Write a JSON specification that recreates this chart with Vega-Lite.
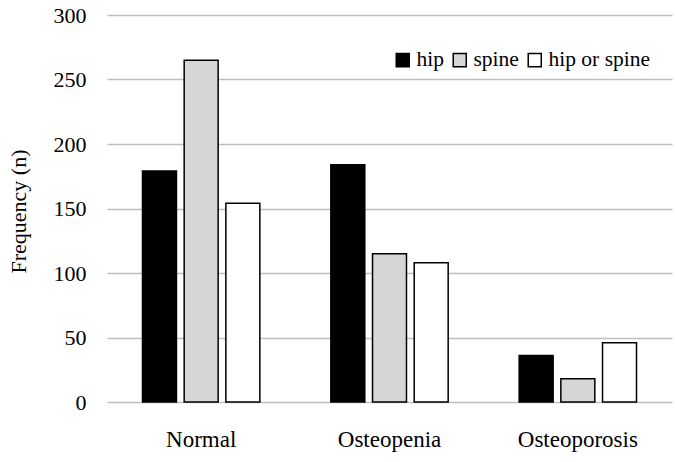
{
  "$schema": "https://vega.github.io/schema/vega-lite/v6.json",
  "width": 565,
  "height": 387,
  "autosize": "none",
  "padding": {"left": 107, "top": 15, "right": 3, "bottom": 60},
  "background": "white",
  "config": {
    "view": {"stroke": null},
    "font": "'Liberation Serif', 'Times New Roman', Times, 'DejaVu Serif', serif"
  },
  "data": {
    "values": [
      {"category": "Normal", "site": "hip", "n": 179},
      {"category": "Normal", "site": "spine", "n": 265},
      {"category": "Normal", "site": "hip or spine", "n": 154},
      {"category": "Osteopenia", "site": "hip", "n": 184},
      {"category": "Osteopenia", "site": "spine", "n": 115},
      {"category": "Osteopenia", "site": "hip or spine", "n": 108},
      {"category": "Osteoporosis", "site": "hip", "n": 36},
      {"category": "Osteoporosis", "site": "spine", "n": 18},
      {"category": "Osteoporosis", "site": "hip or spine", "n": 46}
    ]
  },
  "mark": {"type": "bar", "stroke": "black", "strokeWidth": 1.5},
  "encoding": {
    "x": {
      "field": "category",
      "type": "nominal",
      "sort": ["Normal", "Osteopenia", "Osteoporosis"],
      "scale": {"paddingInner": 0.336, "paddingOuter": 0.168},
      "axis": {
        "title": null,
        "labelAngle": 0,
        "labelFont": "'Liberation Serif', 'Times New Roman', Times, 'DejaVu Serif', serif",
        "labelFontSize": 23,
        "labelColor": "black",
        "labelPadding": 26,
        "ticks": false,
        "domain": false,
        "grid": false
      }
    },
    "xOffset": {
      "field": "site",
      "type": "nominal",
      "sort": ["hip", "spine", "hip or spine"],
      "scale": {"paddingInner": 0.185, "paddingOuter": 0.0925}
    },
    "y": {
      "field": "n",
      "type": "quantitative",
      "scale": {"domain": [0, 300], "nice": false},
      "axis": {
        "title": "Frequency (n)",
        "titleFont": "'Liberation Serif', 'Times New Roman', Times, 'DejaVu Serif', serif",
        "titleFontSize": 22,
        "titleFontWeight": "normal",
        "titleColor": "black",
        "titleAngle": -90,
        "titleX": -89,
        "titleY": 196,
        "titleAlign": "center",
        "titleBaseline": "middle",
        "values": [0, 50, 100, 150, 200, 250, 300],
        "labelFont": "'Liberation Serif', 'Times New Roman', Times, 'DejaVu Serif', serif",
        "labelFontSize": 22,
        "labelColor": "black",
        "labelPadding": 21,
        "ticks": false,
        "domain": false,
        "grid": true,
        "gridColor": "#bfbfbf",
        "gridWidth": 1.5
      }
    },
    "fill": {
      "field": "site",
      "type": "nominal",
      "sort": ["hip", "spine", "hip or spine"],
      "scale": {
        "domain": ["hip", "spine", "hip or spine"],
        "range": ["#000000", "#d6d6d6", "#ffffff"]
      },
      "legend": {
        "title": null,
        "orient": "none",
        "legendX": 285,
        "legendY": 34,
        "direction": "horizontal",
        "symbolType": "square",
        "symbolSize": 170,
        "symbolStrokeColor": "black",
        "symbolStrokeWidth": 1.5,
        "labelFont": "'Liberation Serif', 'Times New Roman', Times, 'DejaVu Serif', serif",
        "labelFontSize": 21.5,
        "labelColor": "black",
        "labelOffset": 3,
        "columnPadding": 5,
        "labelLimit": 300
      }
    }
  }
}
